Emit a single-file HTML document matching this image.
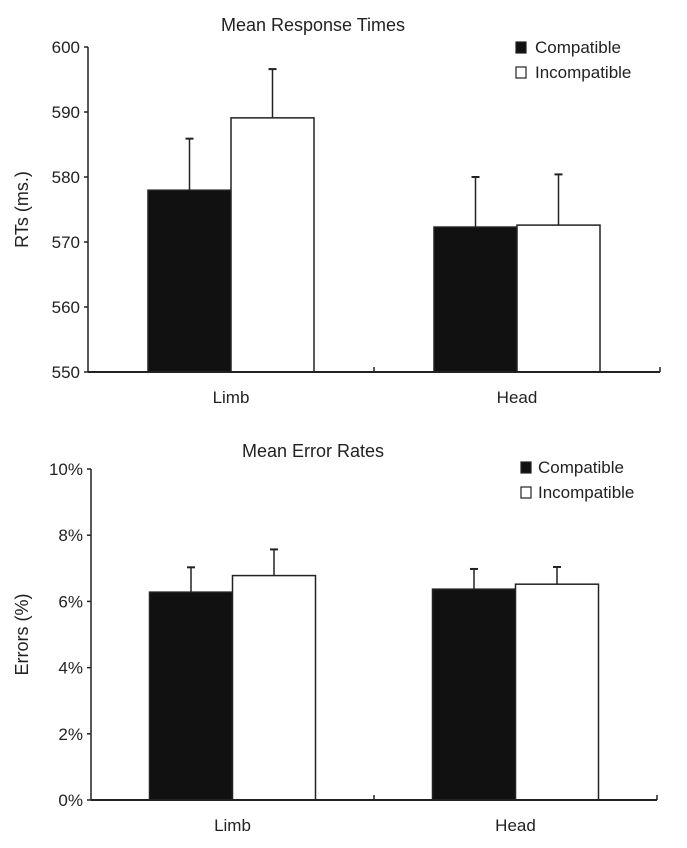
<!DOCTYPE html>
<html><head><meta charset="utf-8"><style>
body{margin:0;background:#fff;}
svg text{font-family:"Liberation Sans",Arial,sans-serif;fill:#222;}
</style></head><body>
<svg id="c" width="687" height="843"></svg>
<script>
const categories=["Limb","Head"];
const series=["Compatible","Incompatible"];
const rtValues=[[577.97,589.1],[572.3,572.6]];
const rtErrors=[[585.9,596.6],[580.0,580.4]];
const rtTicks=[550,560,570,580,590,600];
const errValues=[[6.28,6.78],[6.37,6.52]];
const errErrors=[[7.03,7.57],[6.98,7.04]];
const errTicks=[0,2,4,6,8,10];

const NS="http://www.w3.org/2000/svg";
const svg=document.getElementById('c');
function mk(t,a,p){const e=document.createElementNS(NS,t);for(const k in a)e.setAttribute(k,a[k]);(p||svg).appendChild(e);return e;}

function panel(o){
  const g=mk('g',{});
  
  
  const y=v=>o.y0+(v-o.min)/(o.max-o.min)*(o.y1-o.y0);
  const t=mk('text',{x:313,y:o.titleY,'text-anchor':'middle','font-size':18},g);t.textContent=o.title;
  
  
  const yt=mk('text',{x:0,y:0,'text-anchor':'middle','font-size':18,transform:`translate(28,${(o.y0+o.y1)/2}) rotate(-90)`},g);yt.textContent=o.ytitle;
  
  
  o.ticks.forEach(v=>{
    mk('line',{x1:o.ax-4,x2:o.ax,y1:y(v),y2:y(v),stroke:'#222','stroke-width':1.5},g);
    const l=mk('text',{x:o.ax-8,y:y(v)+6,'text-anchor':'end','font-size':17},g);
    l.textContent=o.fmt(v);
    
    
  });
  const groupW=(o.axEnd-o.ax)/categories.length;
  const barW=83;
  categories.forEach((c,i)=>{
    const cx=o.ax+groupW*(i+0.5);
    series.forEach((s,j)=>{
      const x=cx-barW+j*barW;
      const v=o.vals[i][j],e=o.errs[i][j];
      const ex=x+barW/2;
      const el=mk('line',{x1:ex,x2:ex,y1:y(v),y2:y(e),stroke:'#222','stroke-width':1.5},g);
      
      
      mk('line',{x1:ex-4,x2:ex+4,y1:y(e),y2:y(e),stroke:'#222','stroke-width':2},g);
      const r=mk('rect',{x:x,y:y(v),width:barW,height:y(o.min)-y(v),fill:j===0?'#111':'#fff',stroke:'#222','stroke-width':1.5},g);
      
      
    });
    const cl=mk('text',{x:cx,y:o.y0+31,'text-anchor':'middle','font-size':17},g);cl.textContent=c;
    
    
  });
  mk('line',{x1:o.ax,x2:o.ax,y1:o.y1,y2:o.y0,stroke:'#222','stroke-width':1.5},g);
  mk('line',{x1:o.ax,x2:o.axEnd,y1:o.y0,y2:o.y0,stroke:'#222','stroke-width':2},g);
  [ (o.ax+o.axEnd)/2, o.axEnd].forEach(xx=>mk('line',{x1:xx,x2:xx,y1:o.y0,y2:o.y0-5,stroke:'#222','stroke-width':1.5},g));
  series.forEach((s,j)=>{
    const ly=o.legY+j*25;
    const sw=mk('rect',{x:o.legX,y:ly-11,width:10,height:11,fill:j===0?'#111':'#fff',stroke:'#222','stroke-width':1.2},g);
    
    
    const lt=mk('text',{x:o.legX+o.legGap,y:ly,'font-size':17},g);lt.textContent=s;
    
    
  });
}
panel({name:'rt-chart',title:'Mean Response Times',titleY:31,ytitle:'RTs (ms.)',y0:372,y1:47,min:550,max:600,ticks:rtTicks,fmt:v=>v,vals:rtValues,errs:rtErrors,ax:88,axEnd:660,legX:516,legY:53,legGap:19});
panel({name:'error-chart',title:'Mean Error Rates',titleY:457,ytitle:'Errors (%)',y0:800,y1:469,min:0,max:10,ticks:errTicks,fmt:v=>v+'%',vals:errValues,errs:errErrors,ax:91,axEnd:657,legX:521,legY:473,legGap:17});
</script>
</body></html>
